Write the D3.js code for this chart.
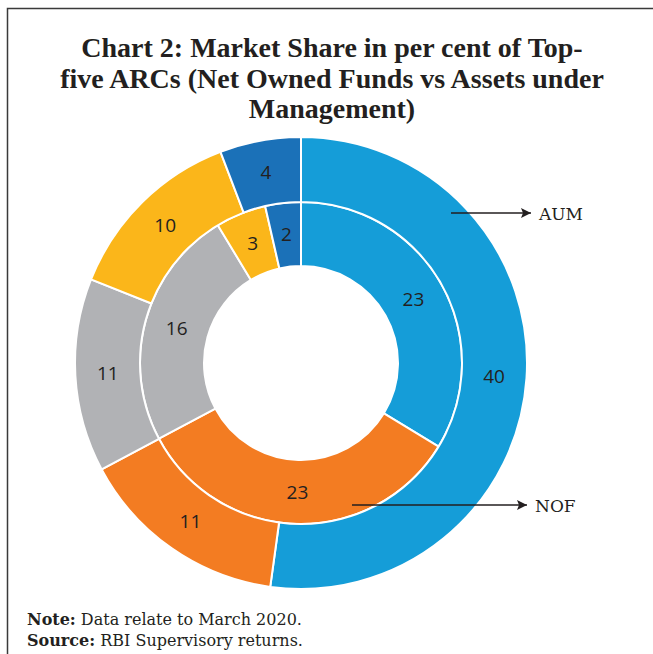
<!DOCTYPE html>
<html>
<head>
<meta charset="utf-8">
<script src="https://cdn.jsdelivr.net/npm/d3@7"></script>
<style>
  body { margin: 0; background: #fff; }
  svg text { fill: #231f20; }
</style>
</head>
<body>
<div id="chart"></div>
<script>
var w = 653;
var h = 654;

// market share in per cent, clockwise from 12 o'clock (labels are rounded)
var arcs = ['ARC 1', 'ARC 2', 'ARC 3', 'ARC 4', 'ARC 5'];
var aum = [39.6, 11.4, 10.5, 10.0, 4.4];
var nof = [22.6, 22.5, 16.2, 3.4, 2.4];
var colorList = ['#159dd8', '#f37c22', '#b1b2b5', '#fbb61a', '#1b71b8'];

var titleLines = ['Chart 2: Market Share in per cent of Top-',
                  'five ARCs (Net Owned Funds vs Assets under',
                  'Management)'];

var svg = d3.select('#chart')
            .append('svg')
            .attr('width', w)
            .attr('height', h);

// frame (left + top only)
svg.append('path')
   .attr('d', 'M7.5,' + h + 'V8.5H' + w)
   .attr('fill', 'none')
   .attr('stroke', '#3a3a3a')
   .attr('stroke-width', 1.5);

svg.append('g')
   .selectAll('text')
   .data(titleLines)
   .enter()
   .append('text')
   .attr('x', 332)
   .attr('y', function(d, i) { return 57 + i * 30.5; })
   .attr('text-anchor', 'middle')
   .style('font-family', 'Liberation Serif, serif')
   .style('font-weight', 'bold')
   .style('font-size', '28px')
   .text(function(d) { return d; });

var cx = 301, cy = 363;
var g = svg.append('g').attr('transform', 'translate(' + cx + ',' + cy + ')');

var color = d3.scaleOrdinal().domain(arcs).range(colorList);
var pie = d3.pie().sort(null).value(function(d) { return d.v; });

var rings = [
  { name: 'NOF', vals: nof, r0: 97, r1: 161 },
  { name: 'AUM', vals: aum, r0: 161, r1: 226 }
];

rings.forEach(function(ring) {
    var data = pie(arcs.map(function(a, i) { return { k: a, v: ring.vals[i] }; }));
    var arc = d3.arc().innerRadius(ring.r0).outerRadius(ring.r1);
    var rg = g.append('g').attr('class', ring.name);
    rg.selectAll('path')
      .data(data)
      .enter()
      .append('path')
      .attr('d', arc)
      .style('fill', function(d) { return color(d.data.k); })
      .style('stroke', '#fff')
      .style('stroke-width', 2);
    rg.selectAll('text')
      .data(data)
      .enter()
      .append('text')
      .attr('transform', function(d) { return 'translate(' + arc.centroid(d) + ')'; })
      .attr('dy', '0.35em')
      .attr('text-anchor', 'middle')
      .style('font-family', 'Open Sans, sans-serif')
      .style('font-size', '19px')
      .text(function(d) { return Math.round(d.data.v); });
});

// arrows
var defs = svg.append('defs');
defs.append('marker')
    .attr('id', 'arr')
    .attr('viewBox', '0 0 10 10')
    .attr('refX', 10).attr('refY', 5)
    .attr('markerWidth', 10).attr('markerHeight', 10)
    .attr('markerUnits', 'userSpaceOnUse')
    .attr('orient', 'auto')
    .append('path')
    .attr('d', 'M0,0L10,5L0,10L2,5Z')
    .attr('fill', '#231f20');

var callouts = [
  { label: 'AUM', x1: 451, x2: 531, y: 213 },
  { label: 'NOF', x1: 352, x2: 527, y: 505 }
];

callouts.forEach(function(c) {
    svg.append('line')
       .attr('x1', c.x1).attr('x2', c.x2)
       .attr('y1', c.y).attr('y2', c.y)
       .attr('stroke', '#231f20')
       .attr('stroke-width', 1.3)
       .attr('marker-end', 'url(#arr)');
    svg.append('text')
       .attr('x', c.x2 + 8)
       .attr('y', c.y + 6.5)
       .style('font-family', 'DejaVu Serif, serif')
       .style('font-size', '17px')
       .text(c.label);
});

var notes = [['Note:', ' Data relate to March 2020.'],
             ['Source:', ' RBI Supervisory returns.']];
notes.forEach(function(n, i) {
    var t = svg.append('text')
               .attr('x', 27)
               .attr('y', 625 + i * 21)
               .style('font-family', 'DejaVu Serif, serif')
               .style('font-size', '16px');
    t.append('tspan').style('font-weight', 'bold').text(n[0]);
    t.append('tspan').text(n[1]);
});
</script>
</body>
</html>
